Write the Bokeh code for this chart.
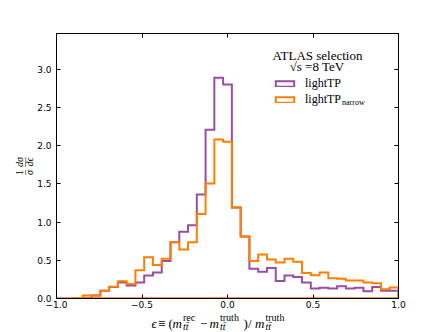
import numpy as np
from bokeh.plotting import figure
from bokeh.layouts import row, column
from bokeh.models import (Range1d, FixedTicker, LinearAxis, Legend, LegendItem,
                          Label, CustomJSTickFormatter)
from bokeh.embed import file_html
from bokeh.resources import INLINE

# ---------------- data ----------------
bin_edges = np.linspace(-1.0, 1.0, 40)          # 39 equal-width bins
light_tp = [0, 0, 0, 0.005, 0.04, 0.10, 0.15, 0.21, 0.17, 0.21,
            0.30, 0.34, 0.49, 0.735, 0.875, 0.96, 1.36, 2.21, 2.89, 2.80,
            1.19, 0.81, 0.39, 0.35, 0.40, 0.23, 0.30, 0.28, 0.21, 0.13,
            0.14, 0.13, 0.16, 0.13, 0.14, 0.095, 0.15, 0.10, 0.10]
light_tp_narrow = [0, 0, 0.005, 0.04, 0.04, 0.10, 0.155, 0.225, 0.19, 0.37,
                   0.54, 0.44, 0.52, 0.735, 0.64, 0.735, 1.105, 1.505, 2.08, 2.05,
                   1.19, 0.81, 0.49, 0.575, 0.51, 0.47, 0.52, 0.48, 0.335, 0.305,
                   0.34, 0.265, 0.26, 0.235, 0.235, 0.21, 0.20, 0.12, 0.145]
series_names = ["lightTP", "lightTP"]
x_ticks = [-1.0, -0.5, 0.0, 0.5, 1.0]
x_tick_labels = ["\u22121.0", "\u22120.5", "0.0", "0.5", "1.0"]
y_ticks = [0.0, 0.5, 1.0, 1.5, 2.0, 2.5, 3.0]
y_tick_labels = ["0.0", "0.5", "1.0", "1.5", "2.0", "2.5", "3.0"]

PURPLE = "#984ea3"
ORANGE = "#ff7f00"
SERIF = "Liberation Serif"

# layout (page px)
YLAB_W = 34                 # strip holding the y label
TOTAL_W, TOTAL_H = 443, 332
MAIN_W, MAIN_H = TOTAL_W - YLAB_W, 312
XLAB_H = TOTAL_H - MAIN_H
FL, FR, FT, FB = 55, 398, 33, 298   # frame edges on the page


def fx(px):
    return px - FL


def fy(py):
    return FB - py


def outline(edges, vals):
    xs = np.repeat(edges, 2)
    ys = np.concatenate([[0.0], np.repeat(np.asarray(vals, float), 2), [0.0]])
    return xs, ys


p = figure(width=MAIN_W, height=MAIN_H, output_backend="svg", toolbar_location=None,
           x_range=Range1d(-1.0, 1.0), y_range=Range1d(0, 1.2 * max(light_tp)),
           min_border_left=FL - YLAB_W, min_border_right=TOTAL_W - FR,
           min_border_top=FT, min_border_bottom=MAIN_H - FB)
p.xgrid.visible = False
p.ygrid.visible = False
p.outline_line_color = "black"
p.outline_line_alpha = 1.0
p.background_fill_color = "white"
p.border_fill_color = "white"

for ax, ticks, labels in ((p.xaxis[0], x_ticks, x_tick_labels),
                          (p.yaxis[0], y_ticks, y_tick_labels)):
    ax.ticker = FixedTicker(ticks=ticks)
    ax.major_label_overrides = {t: l for t, l in zip(ticks, labels)}
    ax.major_tick_in = 4
    ax.major_tick_out = 0
    ax.minor_tick_line_color = None
    ax.axis_line_color = "black"
    ax.major_tick_line_color = "black"
    ax.major_label_text_font = "DejaVu Sans"
    ax.major_label_text_font_size = "9px"
    ax.major_label_text_color = "black"
p.xaxis[0].major_label_standoff = 2
p.yaxis[0].major_label_standoff = 5

blank = CustomJSTickFormatter(code="return ''")
for loc, ticks in (("above", x_ticks), ("right", y_ticks)):
    ax = LinearAxis(ticker=FixedTicker(ticks=ticks), formatter=blank,
                    major_tick_in=4, major_tick_out=0,
                    minor_tick_line_color=None, axis_line_color="black",
                    major_label_text_font_size="0px", major_label_standoff=0)
    p.add_layout(ax, loc)

xs1, ys1 = outline(bin_edges, light_tp)
xs2, ys2 = outline(bin_edges, light_tp_narrow)
r1 = p.patch(xs1, ys1, fill_color=None, line_color=PURPLE, line_width=2, line_join="miter")
r2 = p.patch(xs2, ys2, fill_color=None, line_color=ORANGE, line_width=2, line_join="miter")

legend = Legend(items=[LegendItem(label=series_names[0], renderers=[r1]),
                       LegendItem(label=series_names[1], renderers=[r2])],
                location=(fx(272), fy(106.5)), orientation="vertical",
                border_line_color=None, background_fill_alpha=0,
                glyph_width=23, glyph_height=7, label_standoff=9,
                spacing=1, padding=0, margin=0, label_height=14,
                label_text_font=SERIF, label_text_font_size="12px",
                label_text_color="black")
p.add_layout(legend)


def lab(fig, text, x, y, size, style="normal", align="left", baseline="alphabetic", angle=0.0):
    fig.add_layout(Label(x=x, y=y, x_units="screen", y_units="screen", text=text,
                         text_font=SERIF, text_font_size=f"{size}px",
                         text_font_style=style, text_align=align,
                         text_baseline=baseline, text_color="black", angle=angle))


# legend title and subscript
lab(p, "ATLAS selection", fx(316), fy(54.7), 13, align="center")
lab(p, "\u221as =8 TeV", fx(315.5), fy(65.7), 13, align="center")
lab(p, "narrow", fx(340.5), fy(102), 8)


def strip(w, h):
    f = figure(width=w, height=h, output_backend="svg", toolbar_location=None,
               x_axis_type=None, y_axis_type=None, min_border=0,
               min_border_left=0, min_border_right=0, min_border_top=0, min_border_bottom=0,
               x_range=Range1d(0, 1), y_range=Range1d(0, 1))
    f.grid.visible = False
    f.outline_line_color = None
    f.background_fill_color = "white"
    f.border_fill_color = "white"
    return f


# x axis label strip (below the main figure); its frame is aligned with the main frame
xl = strip(MAIN_W, XLAB_H)
xb = TOTAL_H - 323          # baseline, measured from strip bottom
pieces = [("\u03f5", 150, 0, 13, "italic"), ("\u2261", 156.5, 0, 13, "normal"),
          ("(", 167, 0, 13, "normal"), ("m", 171, 0, 13, "italic"),
          ("tt\u0304", 181.5, -2.5, 10, "italic"), ("rec", 181.5, 6, 10, "normal"),
          ("\u2212", 198.5, 0, 13, "normal"), ("m", 208, 0, 13, "italic"),
          ("tt\u0304", 218.5, -2.5, 10, "italic"), ("truth", 218.5, 6, 10, "normal"),
          (")", 242, 0, 13, "normal"), ("/", 246.5, 0, 13, "normal"),
          ("m", 253.5, 0, 13, "italic"), ("tt\u0304", 264, -2.5, 10, "italic"),
          ("truth", 264, 6, 10, "normal")]
for t, px, dy, sz, st in pieces:
    lab(xl, t, fx(px), xb + dy, sz, style=st)

# y axis label strip (left of everything): 1/sigma dsigma/depsilon, rotated
yl = strip(YLAB_W, TOTAL_H)
rot = np.pi / 2
for t, px, py, st in [("1", 19, 172, "normal"), ("\u03c3", 29, 172, "italic"),
                      ("d\u03c3", 19, 161.5, "italic"), ("d\u03f5", 29, 161.5, "italic"),
                      ("\u2013", 24, 172, "normal"), ("\u2014", 24, 161.5, "normal")]:
    lab(yl, t, px, TOTAL_H - py, 10, style=st, align="center", baseline="middle", angle=rot)

layout = row(yl, column(p, xl))
open("out.html", "w").write(file_html(layout, INLINE))
